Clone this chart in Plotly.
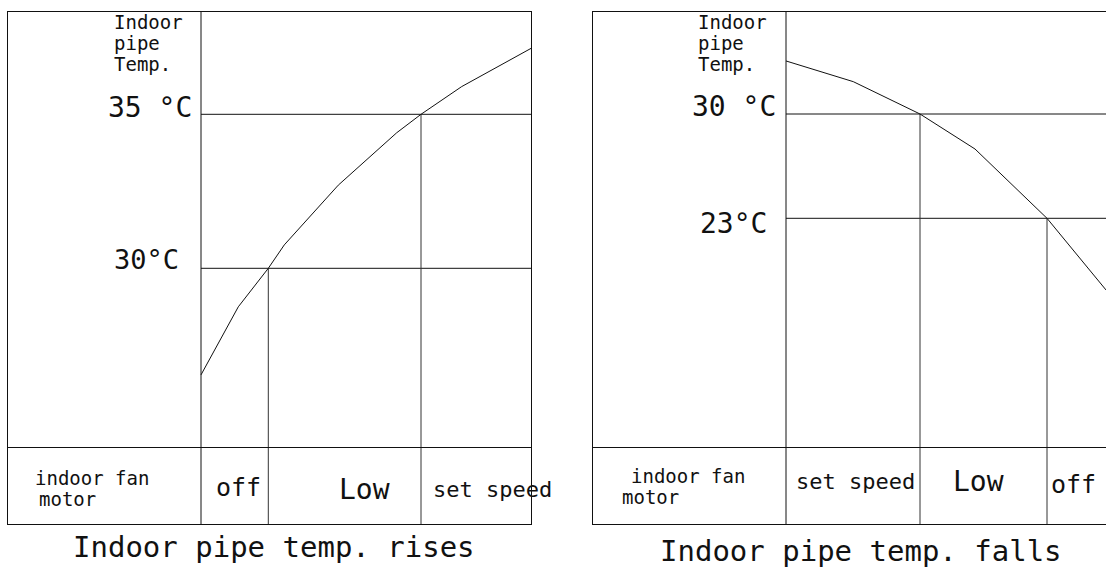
import plotly.graph_objects as go

# ---------------- data ----------------
# Left panel: indoor pipe temperature rises (time in arbitrary units, temp in °C)
left_time = [0, 3.73, 6.73, 8.33, 13.73, 19.57, 22.0, 26.07, 33.0]
left_temp = [26.54, 28.75, 30.0, 30.76, 32.70, 34.40, 35.0, 35.90, 37.14]
left_levels = [30, 35]
left_level_labels = ["30°C", "35 °C"]
left_switch_times = [6.73, 22.0]
left_states = ["off", "Low", "set speed"]
left_title = "Indoor pipe temp. rises"

# Right panel: indoor pipe temperature falls
right_time = [0, 6.73, 13.4, 18.9, 26.1, 32.0]
right_temp = [33.56, 32.17, 30.0, 27.65, 23.0, 18.19]
right_levels = [30, 23]
right_level_labels = ["30 °C", "23°C"]
right_switch_times = [13.4, 26.1]
right_states = ["set speed", "Low", "off"]
right_title = "Indoor pipe temp. falls"

y_title = ["Indoor", "pipe", "Temp."]
row_title = ["indoor fan", "motor"]

# ---------------- layout constants (pixels) ----------------
W, H = 1106, 570
FONT = "DejaVu Sans Mono"
INK = "#111111"
PX_PER_T = 10.0
TOP, TABLE_TOP, BOTTOM = 12, 448, 524

L = dict(left=8, axis=201, right=531, lv_px=(268.3, 114.3))
R = dict(left=593, axis=786, right=1106, lv_px=(114.0, 218.3))


def px_x(px):
    return px / W


def px_y(py):
    return 1 - py / H


def ranges(panel, levels):
    t0 = (panel["left"] - panel["axis"]) / PX_PER_T
    t1 = (panel["right"] - panel["axis"]) / PX_PER_T
    (p_a, p_b) = panel["lv_px"]
    ppd = (p_a - p_b) / (levels[1] - levels[0])  # px per degree (signed)
    y_bot = levels[0] - (TABLE_TOP - p_a) / ppd
    y_top = levels[0] + (p_a - TOP) / ppd
    return [t0, t1], [y_bot, y_top]


lx_rng, ly_rng = ranges(L, left_levels)
rx_rng, ry_rng = ranges(R, right_levels)

fig = go.Figure()


def seg(x, y, xa, ya, color=INK):
    fig.add_trace(go.Scatter(x=x, y=y, xaxis=xa, yaxis=ya, mode="lines",
                             line=dict(color=color, width=1),
                             hoverinfo="skip", showlegend=False))


def build_panel(times, temps, levels, switch_t, x_rng, y_rng, xa_u, ya_u, xa_l, ya_l):
    # vertical temperature axis line (t = 0) across chart and table
    seg([0, 0], [y_rng[0], y_rng[1]], xa_u, ya_u)
    seg([0, 0], [0, 1], xa_l, ya_l)
    # threshold lines
    for lv in levels:
        seg([0, x_rng[1]], [lv, lv], xa_u, ya_u)
    # drop lines from crossings down through the table
    for t, lv in zip(switch_t, levels):
        seg([t, t], [lv, y_rng[0]], xa_u, ya_u, "#333333")
        seg([t, t], [0, 1], xa_l, ya_l, "#333333")
    # temperature curve
    seg(times, temps, xa_u, ya_u)


build_panel(left_time, left_temp, left_levels, left_switch_times,
            lx_rng, ly_rng, "x", "y", "x2", "y2")
build_panel(right_time, right_temp, right_levels, right_switch_times,
            rx_rng, ry_rng, "x3", "y3", "x4", "y4")

ax_common = dict(showgrid=False, zeroline=False, showticklabels=False, ticks="",
                 showline=True, linecolor=INK, linewidth=1, fixedrange=True)

ldom = [px_x(L["left"]), px_x(L["right"])]
rdom = [px_x(R["left"]), 1.0]
udom = [px_y(TABLE_TOP), px_y(TOP)]
bdom = [px_y(BOTTOM), px_y(TABLE_TOP)]

fig.update_layout(
    # upper chart axes: x line only on top (table axes draw the shared line)
    xaxis=dict(domain=ldom, range=lx_rng, anchor="y", side="top", mirror=False, **ax_common),
    yaxis=dict(domain=udom, range=ly_rng, anchor="x", mirror=True, **ax_common),
    xaxis2=dict(domain=ldom, range=lx_rng, anchor="y2", mirror=True, **ax_common),
    yaxis2=dict(domain=bdom, range=[0, 1], anchor="x2", mirror=True, **ax_common),
    xaxis3=dict(domain=rdom, range=rx_rng, anchor="y3", side="top", mirror=False, **ax_common),
    yaxis3=dict(domain=udom, range=ry_rng, anchor="x3", mirror=False, **ax_common),
    xaxis4=dict(domain=rdom, range=rx_rng, anchor="y4", mirror=True, **ax_common),
    yaxis4=dict(domain=bdom, range=[0, 1], anchor="x4", mirror=False, **ax_common),
)

annotations = []


def txt(text, px, py, size, xanchor="center"):
    annotations.append(dict(text=text, x=px_x(px), y=px_y(py), xref="paper", yref="paper",
                            xanchor=xanchor, yanchor="middle", showarrow=False, borderpad=0,
                            font=dict(family=FONT, size=size, color=INK)))


def level_label(text, xa, ya, lv, xshift, yshift, size):
    annotations.append(dict(text=text, x=0, y=lv, xref=xa, yref=ya,
                            xanchor="right", yanchor="middle", showarrow=False,
                            xshift=xshift, yshift=yshift, borderpad=0,
                            font=dict(family=FONT, size=size, color=INK)))


# y-axis header text
for panel_left in (113, 697):
    txt(y_title[0], panel_left, 22, 19, "left")
    txt(y_title[1], panel_left, 43, 19, "left")
    txt(y_title[2], panel_left, 64, 19, "left")

# threshold labels
level_label(left_level_labels[0], "x", "y", left_levels[0], -21, 9, 27)
level_label(left_level_labels[1], "x", "y", left_levels[1], -8, 7, 28)
level_label(right_level_labels[0], "x3", "y3", right_levels[0], -9, 7, 28)
level_label(right_level_labels[1], "x3", "y3", right_levels[1], -18, -5, 28)

# table row labels
txt(row_title[0], 92, 478, 19)
txt(row_title[1], 67, 499, 19)
txt(row_title[0], 688, 476, 19)
txt(row_title[1], 650, 497, 19)

# fan states
txt(left_states[0], 238, 487, 25)
txt(left_states[1], 364, 489, 28)
txt(left_states[2], 492, 489, 22)
txt(right_states[0], 855, 481, 22)
txt(right_states[1], 978, 481, 28)
txt(right_states[2], 1050, 484, 25, "left")

# panel captions
txt(left_title, 274, 547, 29)
txt(right_title, 861, 551, 29)

fig.update_layout(
    annotations=annotations,
    width=W, height=H,
    margin=dict(l=0, r=0, t=0, b=0),
    paper_bgcolor="white", plot_bgcolor="white",
    showlegend=False,
)

fig.write_html("out.html", config={"displayModeBar": False},
               post_script="document.body.style.margin='0';")
